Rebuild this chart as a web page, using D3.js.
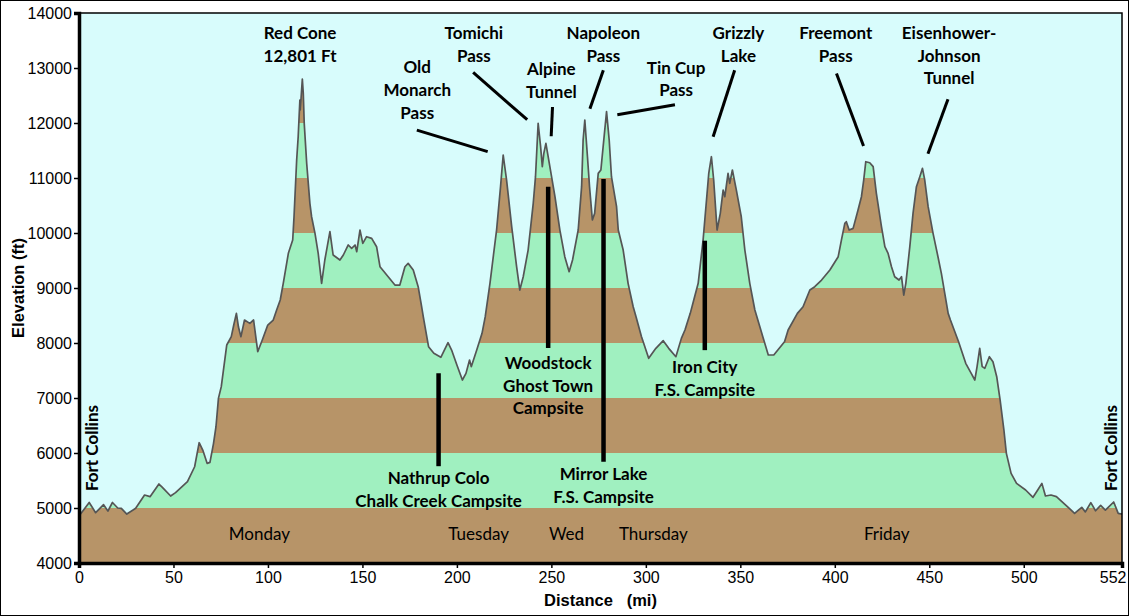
<!DOCTYPE html>
<html>
<head>
<meta charset="utf-8">
<script src="https://cdn.jsdelivr.net/npm/d3@7"></script>
<style>
  body { margin: 0; background: #fff; }
  svg { display: block; }
  .lbl { font-family: Lato, "Open Sans", sans-serif; font-weight: bold; font-size: 17px; fill: #000; }
  .day { font-family: Lato, "Open Sans", sans-serif; font-size: 17px; fill: #000; }
  .tick text { font-family: "Liberation Sans", Arial, sans-serif; font-size: 16px; fill: #000; }
  .title { font-family: "Liberation Sans", Arial, sans-serif; font-weight: bold; font-size: 16.5px; fill: #000; }
</style>
</head>
<body>
<div id="chart"></div>
<script>
// route profile
const miles = [0, 0.7, 5.4, 8.8, 13, 15.3, 17.7, 20.5, 22.4, 25.3, 30, 34.7, 37.6, 42.3, 44, 48.5, 51.1, 57.4, 61.2, 63.6,
  65.5, 67.8, 69.3, 71.2, 72.5, 73.8, 75.3, 78.2, 80.6, 81.9, 83.3, 84.4, 85.7, 87.6, 90.4, 92.4, 94.6, 97, 99.9, 102.8,
  104.6, 106.5, 108.1, 110.8, 113.1, 113.8, 115.2, 116, 116.9, 117.1, 118.2, 118.7, 119.2, 120.5, 122.2, 123.1, 124.9, 126.6, 128.4, 130.1,
  132.8, 134.5, 138.1, 139.9, 142.5, 144.3, 146.1, 147, 148.7, 150.2, 152.2, 154.9, 157.5, 159.3, 167.2, 169.8, 172.5, 174.2, 176.9, 179.5,
  181.2, 182.2, 185, 187.8, 191.5, 195.3, 197.2, 200, 202.9, 204.8, 206.7, 207.6, 210.5, 213.3, 215, 217.5, 221, 223.1, 224.5, 226.3,
  229, 231.6, 233.3, 235.1, 237.7, 240.4, 241.6, 243, 244.3, 245.2, 246, 247.1, 249.2, 251.9, 254.5, 257.1, 259.4, 261.2, 264.2, 266,
  266.8, 267.7, 269.1, 270.2, 271.7, 272.9, 274.8, 276.2, 277.4, 279.2, 280.6, 281.8, 284.5, 285.4, 288, 290.6, 293.3, 294.8, 297.7, 301.5,
  305.3, 309.2, 312.1, 315.9, 318.8, 320.7, 323.5, 325.5, 327.7, 330.3, 332.1, 333.3, 334.7, 335.9, 337.7, 339.4, 340.9, 341.8, 343.5, 344.4,
  345.8, 347.9, 350.5, 352.4, 355, 357.7, 361.9, 364.8, 367.7, 373.4, 375.3, 380.2, 383.2, 386.8, 389.4, 393, 397.4, 401.8, 403.5, 405.3,
  406.1, 407.6, 409.7, 412.3, 414.1, 415.3, 416.4, 418.5, 420.3, 422, 424.7, 426.5, 428.2, 430, 431.7, 434, 435.3, 436.5, 437.6, 439.7,
  441.4, 443.2, 445, 446.4, 447.6, 449.4, 452, 454.6, 456.4, 458.2, 460, 461.2, 465.5, 469.3, 472.2, 474.1, 475.3, 476.7, 478, 479.4,
  481.8, 483.7, 485.7, 487.5, 489.5, 490.8, 493.3, 496.2, 501, 504.9, 507.4, 509.6, 511.5, 514.4, 517.3, 521.2, 524.1, 526.9, 530.7, 532.6,
  535.5, 538, 540.7, 543.2, 547.6, 550, 552]
const feet = [4880, 4885, 5100, 4915, 5060, 4945, 5100, 5000, 4994, 4890, 4994, 5236, 5206, 5436, 5380, 5218, 5280, 5478, 5750, 6187,
  6054, 5812, 5830, 6176, 6478, 6994, 7206, 7964, 8115, 8327, 8539, 8290, 8115, 8418, 8357, 8418, 7842, 8054, 8327, 8418,
  8600, 8782, 9085, 9630, 9872, 10296, 11327, 11750, 12418, 12236, 12800, 12540, 11994, 11267, 10540, 10296, 9994, 9630, 9085, 9509,
  10024, 9600, 9509, 9600, 9782, 9721, 9782, 9660, 10054, 9812, 9933, 9903, 9751, 9387, 9054, 9054, 9387, 9448, 9327, 9024,
  8690, 8478, 7933, 7812, 7739, 8006, 7872, 7600, 7327, 7448, 7690, 7570, 7872, 8176, 8478, 9085, 10054, 10842, 11418, 10963,
  10115, 9387, 8963, 9205, 9690, 10540, 11024, 11994, 11569, 11206, 11448, 11630, 11206, 10660, 10054, 9569, 9296, 9509, 10054, 10842,
  11690, 12054, 11387, 10842, 10236, 10357, 11084, 11145, 11569, 12206, 11690, 11024, 10478, 10054, 9690, 9085, 8660, 8478, 8115, 7721,
  7903, 8042, 7903, 7751, 8084, 8236, 8539, 8800, 9085, 9872, 10600, 11084, 11387, 10963, 10054, 10357, 10781, 10660, 11084, 10903,
  11145, 10781, 10296, 9690, 9085, 8600, 8115, 7782, 7782, 8024, 8236, 8539, 8660, 8963, 9024, 9145, 9327, 9569, 9872, 10175,
  10205, 10054, 10084, 10418, 10660, 10963, 11296, 11278, 11206, 10721, 10115, 9751, 9630, 9387, 9205, 9145, 9205, 8872, 9085, 9751,
  10357, 10842, 11024, 11175, 10963, 10478, 9994, 9569, 9267, 8903, 8539, 8418, 8024, 7630, 7448, 7327, 7570, 7903, 7570, 7540,
  7751, 7660, 7387, 6963, 6418, 5994, 5630, 5448, 5327, 5194, 5327, 5448, 5218, 5236, 5206, 5085, 4994, 4903, 5012, 4930,
  5097, 4950, 5048, 4960, 5109, 4903, 4890]

const xTicks = [0, 50, 100, 150, 200, 250, 300, 350, 400, 450, 500, 552]
const yTicks = [4000, 5000, 6000, 7000, 8000, 9000, 10000, 11000, 12000, 13000, 14000]

// peaks: text lines, mile, elevation of first baseline
const passNames = [
  { lines: ["Red Cone", "12,801 Ft"], mile: 117, top: 13530 },
  { lines: ["Old", "Monarch", "Pass"], mile: 179, top: 12910 },
  { lines: ["Tomichi", "Pass"], mile: 209, top: 13530 },
  { lines: ["Alpine", "Tunnel"], mile: 250, top: 12870 },
  { lines: ["Napoleon", "Pass"], mile: 277.5, top: 13530 },
  { lines: ["Tin Cup", "Pass"], mile: 316, top: 12900 },
  { lines: ["Grizzly", "Lake"], mile: 349, top: 13530 },
  { lines: ["Freemont", "Pass"], mile: 400.5, top: 13530 },
  { lines: ["Eisenhower-", "Johnson", "Tunnel"], mile: 460.5, top: 13530 }
]
// pointer lines: mile1, ft1, mile2, ft2
const pointers = [
  [178.8, 11870, 216.3, 11480],
  [208.6, 12920, 237.2, 12060],
  [250.6, 12290, 249.9, 11760],
  [277.5, 12960, 270.4, 12260],
  [315.4, 12330, 284.9, 12150],
  [347, 12960, 335.6, 11750],
  [400.9, 12900, 415.2, 11580],
  [459.9, 12430, 449.3, 11440]
]
const camps = [
  { lines: ["Nathrup Colo", "Chalk Creek Campsite"], mile: 190.3, from: 7450, to: 5760, labelTop: 5430 },
  { lines: ["Woodstock", "Ghost Town", "Campsite"], mile: 248.3, from: 10840, to: 7910, labelTop: 7530 },
  { lines: ["Mirror Lake", "F.S. Campsite"], mile: 277.6, from: 10980, to: 5840, labelTop: 5510 },
  { lines: ["Iron City", "F.S. Campsite"], mile: 331.2, from: 9860, to: 7870, labelTop: 7460 }
]
const days = ["Monday", "Tuesday", "Wed", "Thursday", "Friday"]
const dayMiles = [95.5, 211.5, 258, 304, 427.5]

const W = 1129, H = 616
const margin = { top: 13, right: 7, bottom: 53, left: 79 }
const width = W - margin.left - margin.right
const height = H - margin.top - margin.bottom

const svg = d3.select("#chart").append("svg")
  .attr("width", W)
  .attr("height", H)

svg.append("rect")
  .attr("x", 0.5).attr("y", 0.5)
  .attr("width", W - 1).attr("height", H - 1)
  .attr("fill", "#fff").attr("stroke", "#000")

const g = svg.append("g")
  .attr("transform", "translate(" + margin.left + "," + margin.top + ")")

const xScale = d3.scaleLinear().domain([0, 552]).range([0, width])
const yScale = d3.scaleLinear().domain([4000, 14000]).range([height, 0])

g.append("rect")
  .attr("width", width).attr("height", height)
  .attr("fill", "#d8fcfc")

const profile = miles.map((m, i) => ({ m, ft: feet[i] }))

const area = d3.area()
  .x(d => xScale(d.m))
  .y0(height)
  .y1(d => yScale(d.ft))

g.append("clipPath").attr("id", "ground")
  .append("path").attr("d", area(profile))

// alternating 1000 ft bands under the profile
g.append("g").attr("clip-path", "url(#ground)")
  .selectAll("rect")
  .data(yTicks.slice(0, -1))
  .enter()
  .append("rect")
  .attr("x", 0)
  .attr("width", width)
  .attr("y", d => yScale(d + 1000))
  .attr("height", d => yScale(d) - yScale(d + 1000))
  .attr("fill", (d, i) => i % 2 == 0 ? "#b79468" : "#a0f0c0")

const line = d3.line()
  .x(d => xScale(d.m))
  .y(d => yScale(d.ft))

g.append("path")
  .attr("d", line(profile))
  .attr("fill", "none")
  .attr("stroke", "#555")
  .attr("stroke-width", 1.7)
  .attr("stroke-linejoin", "round")

// plot frame
g.append("rect")
  .attr("width", width).attr("height", height)
  .attr("fill", "none").attr("stroke", "#000").attr("stroke-width", 1.5)

const xAxis = d3.axisBottom(xScale)
  .tickValues(xTicks)
  .tickSize(5)
  .tickPadding(4)
  .tickFormat(d3.format("d"))

const yAxis = d3.axisLeft(yScale)
  .tickValues(yTicks)
  .tickSize(5)
  .tickPadding(2)
  .tickFormat(d3.format("d"))

const gx = g.append("g")
  .attr("transform", `translate(0, ${height})`)
  .call(xAxis)
gx.select(".domain").attr("stroke-width", 3.5)
gx.selectAll(".tick line").attr("stroke-width", 1.5)
gx.selectAll(".tick text")
  .filter(d => d == 552)
  .attr("text-anchor", "end")
  .attr("dx", 4)

const gy = g.append("g").call(yAxis)
gy.select(".domain").attr("stroke-width", 3.5)
gy.selectAll(".tick line").attr("stroke-width", 1.5)
gy.selectAll(".tick text").attr("dy", "0.36em")

g.append("text")
  .attr("class", "title")
  .attr("transform", `translate(${-55}, ${height / 2}) rotate(-90)`)
  .attr("text-anchor", "middle")
  .text("Elevation (ft)")

g.append("text")
  .attr("class", "title")
  .attr("x", xScale(276))
  .attr("y", height + 43)
  .attr("text-anchor", "middle")
  .attr("xml:space", "preserve")
  .style("white-space", "pre")
  .text("Distance   (mi)")

const lineGap = 22.8

function multiline(sel, lines, x, yTop) {
  const t = sel.append("text")
    .attr("class", "lbl")
    .attr("text-anchor", "middle")
    .attr("x", x)
    .attr("y", yTop)
  lines.forEach((s, i) => {
    t.append("tspan").attr("x", x).attr("y", yTop + i * lineGap).text(s)
  })
}

passNames.forEach(p => multiline(g, p.lines, xScale(p.mile), yScale(p.top)))

g.selectAll(".pointer")
  .data(pointers)
  .enter()
  .append("line")
  .attr("class", "pointer")
  .attr("x1", d => xScale(d[0]))
  .attr("y1", d => yScale(d[1]))
  .attr("x2", d => xScale(d[2]))
  .attr("y2", d => yScale(d[3]))
  .attr("stroke", "#000")
  .attr("stroke-width", 3)

camps.forEach(c => {
  g.append("line")
    .attr("x1", xScale(c.mile)).attr("x2", xScale(c.mile))
    .attr("y1", yScale(c.from)).attr("y2", yScale(c.to))
    .attr("stroke", "#000").attr("stroke-width", 4.5)
  multiline(g, c.lines, xScale(c.mile), yScale(c.labelTop))
})

g.selectAll(".day")
  .data(days)
  .enter()
  .append("text")
  .attr("class", "day")
  .attr("text-anchor", "middle")
  .attr("x", (d, i) => xScale(dayMiles[i]))
  .attr("y", yScale(4420))
  .text(d => d)

;[10, 549.6].forEach(m => {
  g.append("text")
    .attr("class", "lbl")
    .attr("text-anchor", "middle")
    .attr("transform", `translate(${xScale(m)}, ${yScale(6090)}) rotate(-90)`)
    .text("Fort Collins")
})
</script>
</body>
</html>
